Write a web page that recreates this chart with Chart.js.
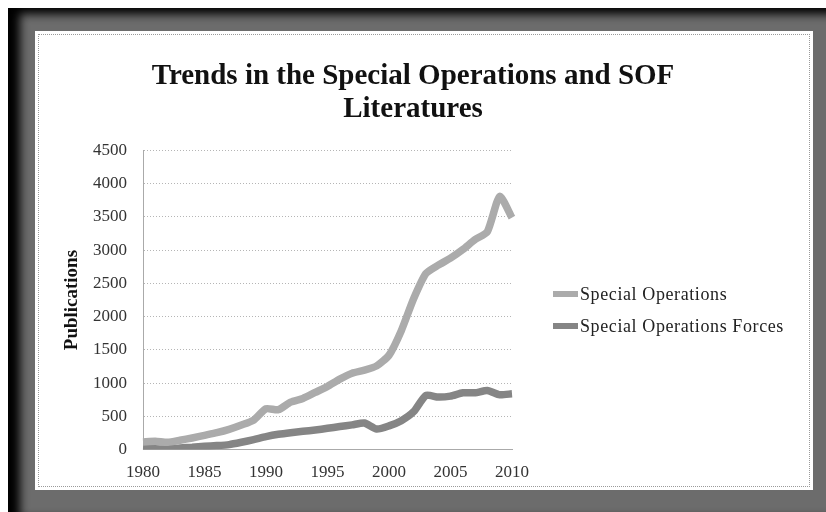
<!DOCTYPE html>
<html>
<head>
<meta charset="utf-8">
<script src="https://cdn.jsdelivr.net/npm/chart.js@4.4.1/dist/chart.umd.min.js"></script>
<style>
  html, body { margin: 0; padding: 0; background: #fff; }
  body { width: 826px; height: 512px; position: relative; overflow: hidden; }
  .frame {
    position: absolute; left: 8px; top: 8px; width: 818px; height: 504px;
    background: #6c6c6c;
    box-shadow: inset 12px 6px 10px #000;
  }
  .panel {
    position: absolute; left: 35px; top: 31px; width: 778px; height: 459px;
    background: #fff;
  }
  .panel::after {
    content: ""; position: absolute; left: 3px; top: 3px; right: 3px; bottom: 3px;
    border: 1px dotted #9a9a9a; pointer-events: none;
  }
  canvas { position: absolute; left: 0; top: 0; }
  .legend {
    position: absolute; left: 518px; top: 247px;
    font-family: 'Liberation Serif', 'DejaVu Serif', serif; font-size: 18px;
    letter-spacing: 0.6px; color: #222;
  }
  .legend div { height: 32px; display: flex; align-items: center; }
  .legend span.swatch { display: inline-block; width: 25px; height: 6px; margin-right: 2px; }
</style>
</head>
<body>
<div class="frame"></div>
<div class="panel">
  <canvas id="myChart" width="778" height="459"></canvas>
  <div class="legend" id="legend"></div>
</div>
<script>
const years = [];
for (let y = 1980; y <= 2010; y++) years.push(String(y));

const specialOps = [115, 125, 110, 140, 175, 215, 255, 305, 370, 445, 615, 600, 715, 770, 860, 950, 1060, 1150, 1195, 1260, 1420, 1790, 2270, 2650, 2775, 2880, 3010, 3160, 3280, 3810, 3490];
const sofForces = [25, 12, 10, 25, 35, 50, 60, 75, 110, 150, 195, 230, 255, 275, 295, 320, 347, 372, 400, 310, 357, 435, 570, 815, 790, 805, 855, 855, 890, 825, 840];

const yTicks = [0, 500, 1000, 1500, 2000, 2500, 3000, 3500, 4000, 4500];

const serif = "'Liberation Serif', 'DejaVu Serif', serif";

const ctx = document.getElementById('myChart').getContext('2d');
const myChart = new Chart(ctx, {
  type: 'line',
  data: {
    labels: years,
    datasets: [{
      label: 'Special Operations',
      data: specialOps,
      borderColor: '#ababab',
      backgroundColor: '#ababab',
      borderWidth: 7.5,
      pointRadius: 0,
      tension: 0.2,
    }, {
      label: 'Special Operations Forces',
      data: sofForces,
      borderColor: '#858585',
      backgroundColor: '#858585',
      borderWidth: 7.5,
      pointRadius: 0,
      tension: 0.2,
    }]
  },
  options: {
    responsive: false,
    animation: false,
    layout: { padding: { left: 22, right: 44, top: 0, bottom: 2 } },
    plugins: {
      title: {
        display: true,
        text: ['Trends in the Special Operations and SOF', 'Literatures'],
        color: '#111',
        font: { family: serif, size: 29, weight: 'bold', lineHeight: 1.13 },
        padding: { top: 29, bottom: 25 },
      },
      legend: { display: false },
      tooltip: { enabled: false },
    },
    scales: {
      x: {
        grid: { display: false },
        border: { color: '#aaa', dash: [1, 2] },
        ticks: {
          autoSkip: false,
          maxRotation: 0,
          color: '#333',
          font: { family: serif, size: 17 },
          padding: 5,
          callback: function(val, i) {
            const y = years[i];
            return (Number(y) % 5 === 0) ? y : '';
          }
        }
      },
      y: {
        min: 0,
        max: 4500,
        afterBuildTicks: (axis) => { axis.ticks = yTicks.map(v => ({ value: v })); },
        afterFit: (axis) => { axis.width = 86; },
        grid: { color: '#b5b5b5', drawTicks: false },
        border: { color: '#aaa', dash: [1, 2] },
        ticks: {
          color: '#333',
          font: { family: serif, size: 17 },
          padding: 16,
          callback: (v) => String(v),
        },
        title: {
          display: true,
          text: 'Publications',
          color: '#111',
          font: { family: serif, size: 19, weight: 'bold' },
          padding: 4,
        }
      },
      // empty right-hand axis that only keeps room for the legend
      legendSpace: {
        type: 'linear',
        position: 'right',
        display: true,
        grid: { display: false },
        border: { display: false },
        ticks: { display: false },
        afterFit: (axis) => { axis.width = 257; },
      }
    }
  }
});

const legendEl = document.getElementById('legend');
myChart.data.datasets.forEach(ds => {
  const row = document.createElement('div');
  const sw = document.createElement('span');
  sw.className = 'swatch';
  sw.style.background = ds.borderColor;
  row.appendChild(sw);
  row.appendChild(document.createTextNode(ds.label));
  legendEl.appendChild(row);
});
</script>
</body>
</html>
